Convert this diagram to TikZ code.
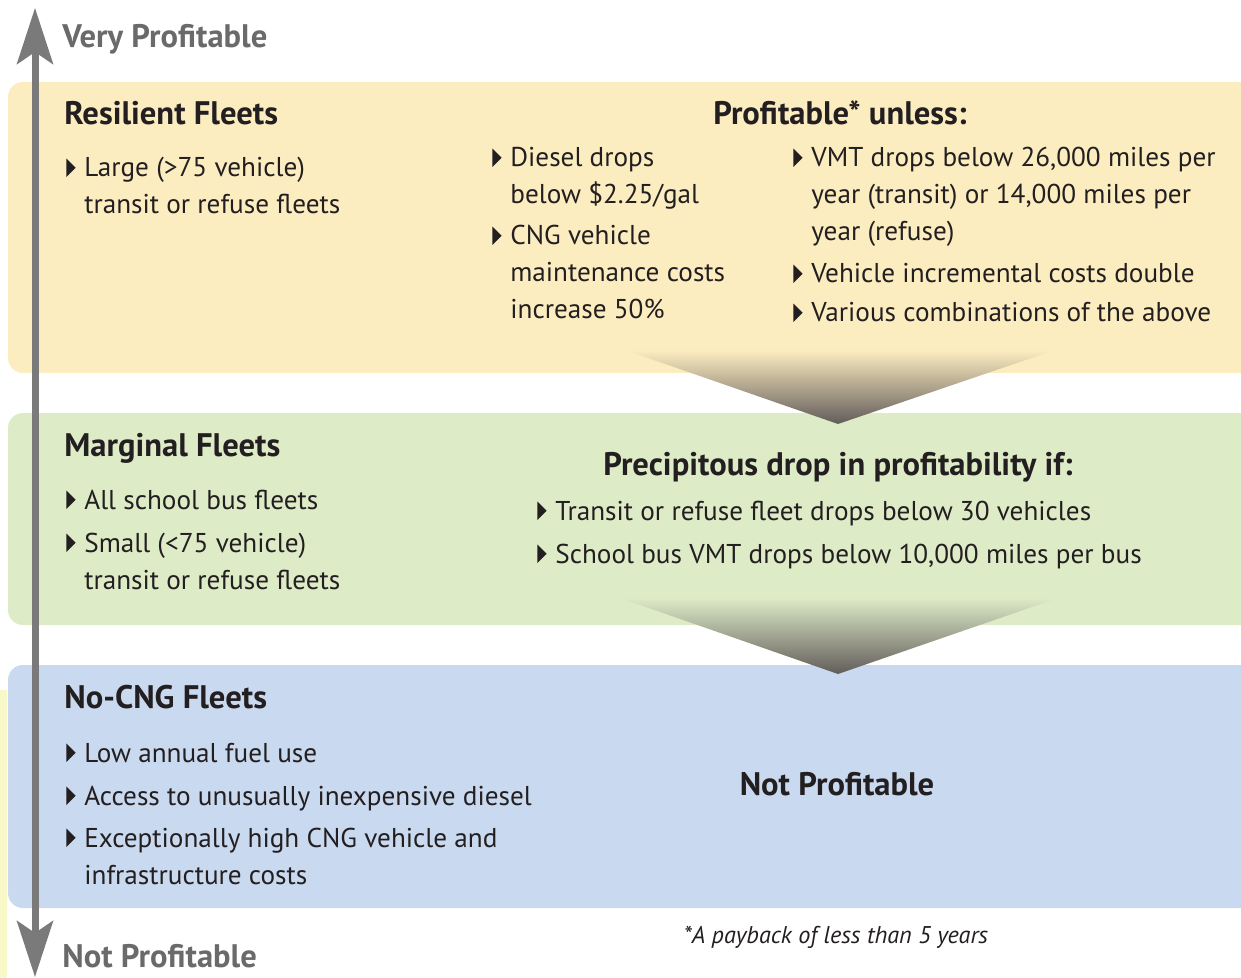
\documentclass[tikz,border=0pt]{standalone}
\usepackage{fontspec}
\setmainfont{PT Sans}
\usepackage{tikz}
\usetikzlibrary{arrows.meta}
\definecolor{bandyel}{HTML}{FCEDC0}
\definecolor{bandgrn}{HTML}{DDEBC7}
\definecolor{bandblu}{HTML}{C9D9EF}
\definecolor{axisgray}{HTML}{7A7A7A}
\definecolor{labgray}{HTML}{6A6A6A}
\definecolor{ink}{HTML}{231F20}
\definecolor{drop}{HTML}{625C5A}
\definecolor{paleyel}{HTML}{F8F8C8}
\newcommand\bul{\tikz[baseline=0pt]\fill[ink] (0,0) -- (0,0.68em) -- (0.34em,0.34em) -- cycle;\hspace{0.32em}}
\newcommand\gap{\phantom{\bul}}
\newcommand\lines[1]{\begin{tabular}[t]{@{}l@{}}#1\end{tabular}}
\tikzset{
  txt/.style={anchor=base west, inner sep=0pt, text=ink, font=\fontsize{13.6}{18.5}\selectfont},
  head/.style={txt, font=\fontsize{16.3}{18.5}\selectfont\bfseries},
  endlab/.style={anchor=base west, inner sep=0pt, text=labgray, font=\fontsize{16.3}{18}\selectfont\bfseries}
}

\begin{document}
\begin{tikzpicture}[x=0.5pt, y=-0.5pt]
		%%%%% START %%%%%
		\useasboundingbox (0,0) rectangle (1241,978);
		
		% bands
		\fill[paleyel] (0,690) rectangle (7,978);
		\fill[bandyel] (1241,82) [rounded corners=7.5pt] -- (8,82) -- (8,373) [sharp corners] -- (1241,373) -- cycle;
		\fill[bandgrn] (1241,413) [rounded corners=7.5pt] -- (8,413) -- (8,625) [sharp corners] -- (1241,625) -- cycle;
		\fill[bandblu] (1241,665) [rounded corners=7.5pt] -- (8,665) -- (8,908) [sharp corners] -- (1241,908) -- cycle;
		
		% drops between bands
		\shade[top color=bandyel, bottom color=drop] (625,350) -- (1055,350) -- (838,424) -- cycle;
		\shade[top color=bandgrn, bottom color=drop] (620,598) -- (1058,598) -- (838,674) -- cycle;
		
		% profitability axis
		\coordinate (top) at (35,8);
		\coordinate (bot) at (35,977);
		\draw[axisgray, line width=3.5pt, {Stealth[length=28pt,width=18pt,inset=6pt]}-{Stealth[length=28pt,width=18pt,inset=6pt]}] (bot) -- (top);
		
		\node[endlab] (veryprof) at (62,48) {Very Profitable};
		\node[endlab] (notprof) at (62,967) {Not Profitable};
		
		% resilient
		\node[head] (resil) at (64,125) {Resilient Fleets};
		\node[txt] (resil1) at (66,177) {\lines{\bul Large (>75 vehicle)\\\gap transit or refuse fleets}};
		\node[head, anchor=base] (unless) at (840,125) {Profitable* unless:};
		\node[txt] (unl1) at (492,167) {\lines{\bul Diesel drops\\\gap below \$2.25/gal}};
		\node[txt] (unl2) at (492,245) {\lines{\bul CNG vehicle\\\gap maintenance costs\\\gap increase 50\%}};
		\node[txt] (unl3) at (793,167) {\lines{\bul VMT drops below 26,000 miles per\\\gap year (transit) or 14,000 miles per\\\gap year (refuse)}};
		\node[txt] (unl4) at (793,283) {\bul Vehicle incremental costs double};
		\node[txt] (unl5) at (793,322) {\bul Various combinations of the above};
		
		% marginal
		\node[head] (marg) at (64,456) {Marginal Fleets};
		\node[txt] (marg1) at (66,509) {\bul All school bus fleets};
		\node[txt] (marg2) at (66,552) {\lines{\bul Small (<75 vehicle)\\\gap transit or refuse fleets}};
		\node[head, anchor=base] (precip) at (838,475) {Precipitous drop in profitability if:};
		\node[txt] (prc1) at (537,520) {\bul Transit or refuse fleet drops below 30 vehicles};
		\node[txt] (prc2) at (537,563) {\bul School bus VMT drops below 10,000 miles per bus};
		
		% no-cng
		\node[head] (nocng) at (64,708) {No-CNG Fleets};
		\node[txt] (noc1) at (66,762) {\bul Low annual fuel use};
		\node[txt] (noc2) at (66,805) {\bul Access to unusually inexpensive diesel};
		\node[txt] (noc3) at (66,847) {\lines{\bul Exceptionally high CNG vehicle and\\\gap infrastructure costs}};
		\node[head, anchor=base] (never) at (837,795) {Not Profitable};
		
		\node[anchor=base, inner sep=0pt, text=ink, font=\fontsize{12.1}{14}\selectfont\itshape] (foot) at (836,943) {*A payback of less than 5 years};
		%%%%% END %%%%%
\end{tikzpicture}
\end{document}
